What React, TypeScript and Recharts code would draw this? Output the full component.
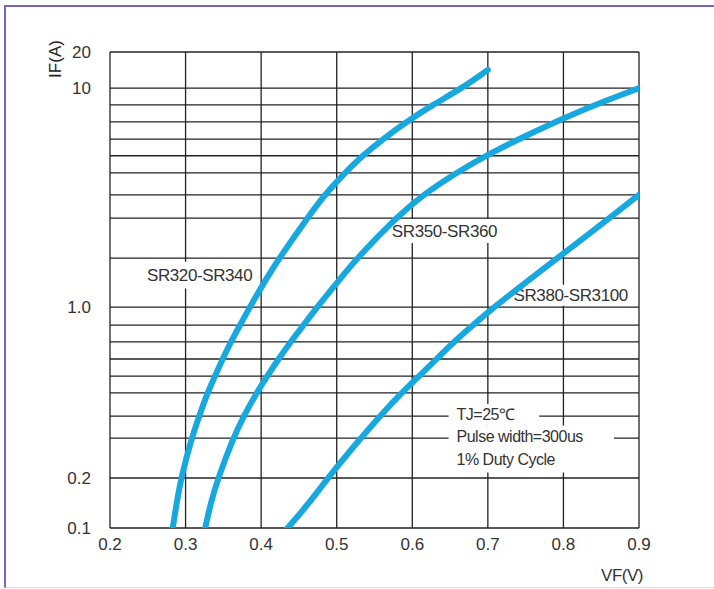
import React from 'react';
import { LineChart, Line, XAxis, YAxis, CartesianGrid, ReferenceArea } from 'recharts';

// ---- data ----
const vfTicks = [0.2, 0.3, 0.4, 0.5, 0.6, 0.7, 0.8, 0.9];
const ifTicks = [0.1, 0.2, 0.3, 0.4, 0.5, 0.6, 0.7, 0.8, 0.9, 1, 2, 3, 4, 5, 6, 7, 8, 9, 10, 20];
const ifLabeledTicks = [0.1, 0.2, 1, 10, 20];

const sr320Vf = [0.283, 0.288, 0.294, 0.308, 0.318, 0.329, 0.339, 0.349, 0.36, 0.372, 0.385, 0.407, 0.424, 0.461, 0.484, 0.511, 0.534, 0.561, 0.592, 0.627, 0.666, 0.7];
const sr320If = [0.1, 0.14, 0.2, 0.3, 0.4, 0.5, 0.6, 0.7, 0.8, 0.9, 1, 1.5, 2, 3, 4, 5, 6, 7, 8, 9, 10, 14.2];

const sr350Vf = [0.326, 0.333, 0.343, 0.363, 0.377, 0.394, 0.408, 0.423, 0.439, 0.456, 0.474, 0.505, 0.527, 0.578, 0.614, 0.658, 0.697, 0.741, 0.789, 0.841, 0.9];
const sr350If = [0.1, 0.14, 0.2, 0.3, 0.4, 0.5, 0.6, 0.7, 0.8, 0.9, 1, 1.5, 2, 3, 4, 5, 6, 7, 8, 9, 10];

const sr380Vf = [0.435, 0.463, 0.488, 0.532, 0.557, 0.586, 0.609, 0.632, 0.655, 0.68, 0.708, 0.757, 0.792, 0.861, 0.9];
const sr380If = [0.1, 0.14, 0.2, 0.3, 0.4, 0.5, 0.6, 0.7, 0.8, 0.9, 1, 1.5, 2, 3, 4];

const seriesNames = ['SR320-SR340', 'SR350-SR360', 'SR380-SR3100'];
const noteLines = ['TJ=25\u2103', 'Pulse width=300us', '1% Duty Cycle'];

const toRows = (vf: number[], ia: number[]) => vf.map((v, i) => ({ vf: v, ia: ia[i] }));
const sr320 = toRows(sr320Vf, sr320If);
const sr350 = toRows(sr350Vf, sr350If);
const sr380 = toRows(sr380Vf, sr380If);

// ---- axis definition: the datasheet's hand-drawn (non-uniform) logarithmic IF axis ----
// relative height of each gridline value along the axis (0 = bottom, 1 = top)
const gridFractions = [0, 0.105, 0.189, 0.235, 0.284, 0.319, 0.355, 0.391, 0.426, 0.464, 0.567, 0.651, 0.7, 0.746, 0.782, 0.817, 0.853, 0.889, 0.924, 1];

function datasheetLogScale(dom: number[] = [0.1, 20], rng: number[] = [0, 1]): any {
  let domain = dom.slice();
  let range = rng.slice();
  const lv = ifTicks.map((v) => Math.log10(v));
  const frac = (v: number) => {
    const l = Math.log10(Math.max(v, 1e-9));
    let i = 0;
    while (i < lv.length - 2 && l > lv[i + 1]) i++;
    const t = (l - lv[i]) / (lv[i + 1] - lv[i]);
    return gridFractions[i] + t * (gridFractions[i + 1] - gridFractions[i]);
  };
  const scale: any = (v: number) => range[0] + frac(v) * (range[range.length - 1] - range[0]);
  scale.domain = (d?: number[]) => {
    if (d === undefined) return domain.slice();
    domain = d.slice();
    return scale;
  };
  scale.range = (r?: number[]) => {
    if (r === undefined) return range.slice();
    range = r.slice();
    return scale;
  };
  scale.copy = () => datasheetLogScale(domain, range);
  scale.ticks = () => ifTicks.slice();
  scale.tickFormat = () => (v: number) => String(v);
  scale.clamp = () => scale;
  scale.nice = () => scale;
  scale.invert = (px: number) => {
    const f = (px - range[0]) / (range[range.length - 1] - range[0]);
    let i = 0;
    while (i < gridFractions.length - 2 && f > gridFractions[i + 1]) i++;
    const t = (f - gridFractions[i]) / (gridFractions[i + 1] - gridFractions[i]);
    return Math.pow(10, lv[i] + t * (lv[i + 1] - lv[i]));
  };
  return scale;
}
const ifScale = datasheetLogScale();

// ---- styles ----
const FONT = '"Liberation Sans", Arial, Helvetica, sans-serif';
const TEXT = '#333333';
const GRID = '#222222';
const BLUE = '#17a8e0';

const fmtIf = (v: number) => {
  if (!ifLabeledTicks.includes(v)) return '';
  if (v === 1) return '1.0';
  return String(v);
};

function AnnoLabel(props: any) {
  const { viewBox, text, pad = 4, size = 17, spacing = -0.4 } = props;
  if (!viewBox) return null;
  return (
    <text
      x={viewBox.x + pad}
      y={viewBox.y + viewBox.height / 2}
      dominantBaseline="central"
      fontSize={size}
      fill={TEXT}
      letterSpacing={spacing}
      fontFamily={FONT}
    >
      {text}
    </text>
  );
}

function YTitle(props: any) {
  const { viewBox } = props;
  if (!viewBox) return null;
  const x = viewBox.x + 5;
  const y = viewBox.y + 7;
  return (
    <text
      x={x}
      y={y}
      transform={`rotate(-90 ${x} ${y})`}
      textAnchor="middle"
      dominantBaseline="central"
      fontSize={17}
      fill="#222"
      fontFamily={FONT}
    >
      IF(A)
    </text>
  );
}

function XTitle(props: any) {
  const { viewBox } = props;
  if (!viewBox) return null;
  return (
    <text
      x={viewBox.x + viewBox.width - 17}
      y={viewBox.y + viewBox.height + 17}
      textAnchor="middle"
      dominantBaseline="central"
      fontSize={17}
      fill={TEXT}
      letterSpacing={-0.5}
      fontFamily={FONT}
    >
      VF(V)
    </text>
  );
}

export default function App() {
  return (
    <div style={{ position: 'absolute', left: 0, top: 0, width: 714, height: 589, background: '#ffffff', fontFamily: FONT }}>
      <div
        style={{
          position: 'absolute',
          left: 4,
          top: 5,
          right: 0,
          bottom: 1,
          borderTop: '2px solid #7a63c0',
          borderLeft: '2px solid #7a63c0',
          borderBottom: '1px solid #dcd6f3',
        }}
      />
      <div style={{ position: 'absolute', left: 0, top: 0 }}>
        <LineChart width={714} height={589} margin={{ top: 52, right: 75, bottom: 31, left: 50 }}>
          <CartesianGrid stroke={GRID} strokeWidth={1.3} />
          <XAxis
            type="number"
            dataKey="vf"
            domain={[0.2, 0.9]}
            ticks={vfTicks}
            allowDataOverflow
            axisLine={false}
            tickLine={false}
            tickSize={6}
            tickMargin={4}
            height={30}
            tick={{ fill: TEXT, fontSize: 17, fontFamily: FONT }}
            tickFormatter={(v: number) => v.toFixed(1)}
            label={<XTitle />}
          />
          <YAxis
            type="number"
            scale={ifScale}
            domain={[0.1, 20]}
            ticks={ifTicks}
            allowDataOverflow
            axisLine={false}
            tickLine={false}
            tickSize={15}
            tickMargin={4}
            width={60}
            interval={0}
            tick={{ fill: TEXT, fontSize: 17, fontFamily: FONT }}
            tickFormatter={fmtIf}
            label={<YTitle />}
          />
          <ReferenceArea x1={0.245} x2={0.39} y1={1.3} y2={1.9} fill="#ffffff" fillOpacity={1} stroke="none" label={<AnnoLabel text={seriesNames[0]} pad={3} />} />
          <ReferenceArea x1={0.569} x2={0.716} y1={2.33} y2={2.97} fill="#ffffff" fillOpacity={1} stroke="none" label={<AnnoLabel text={seriesNames[1]} pad={3} />} />
          <ReferenceArea x1={0.73} x2={0.89} y1={1.02} y2={1.37} fill="#ffffff" fillOpacity={1} stroke="none" label={<AnnoLabel text={seriesNames[2]} pad={3} />} />
          <ReferenceArea x1={0.648} x2={0.768} y1={0.354} y2={0.449} fill="#ffffff" fillOpacity={1} stroke="none" label={<AnnoLabel text={noteLines[0]} pad={8} size={16} spacing={-0.5} />} />
          <ReferenceArea x1={0.648} x2={0.867} y1={0.274} y2={0.354} fill="#ffffff" fillOpacity={1} stroke="none" label={<AnnoLabel text={noteLines[1]} pad={8} size={16} spacing={-0.5} />} />
          <ReferenceArea x1={0.648} x2={0.845} y1={0.2114} y2={0.274} fill="#ffffff" fillOpacity={1} stroke="none" label={<AnnoLabel text={noteLines[2]} pad={8} size={16} spacing={-0.5} />} />
          <Line data={sr320} dataKey="ia" name={seriesNames[0]} type="basis" stroke={BLUE} strokeWidth={6} strokeLinecap="round" dot={false} activeDot={false} isAnimationActive={false} />
          <Line data={sr350} dataKey="ia" name={seriesNames[1]} type="basis" stroke={BLUE} strokeWidth={6} strokeLinecap="round" dot={false} activeDot={false} isAnimationActive={false} />
          <Line data={sr380} dataKey="ia" name={seriesNames[2]} type="basis" stroke={BLUE} strokeWidth={6} strokeLinecap="round" dot={false} activeDot={false} isAnimationActive={false} />
        </LineChart>
      </div>
    </div>
  );
}
